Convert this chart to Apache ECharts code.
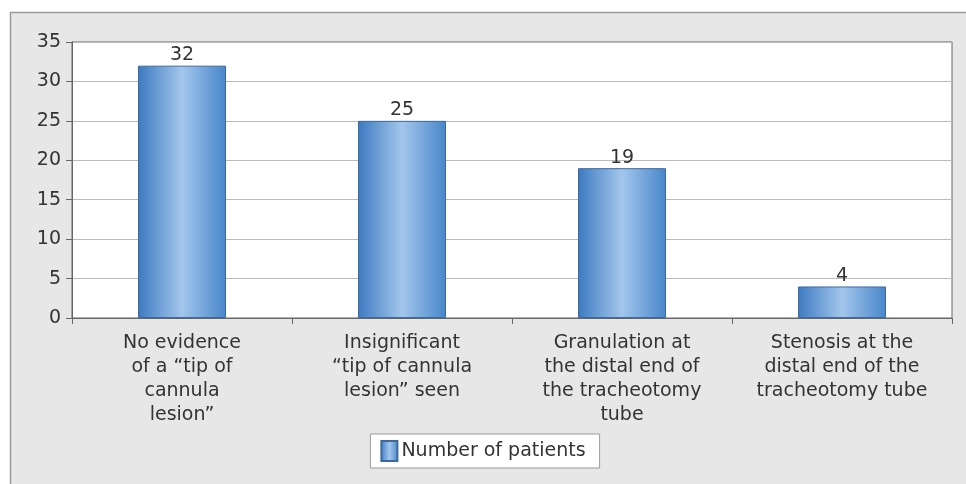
<!DOCTYPE html>
<html><head><meta charset="utf-8">
<script src="https://cdn.jsdelivr.net/npm/echarts@6/dist/echarts.min.js"></script>
<style>html,body{margin:0;padding:0;background:#fff}#c{width:966px;height:484px}</style>
</head><body><div id="c"></div>
<script>
const categories = ['No evidence\nof a “tip of\ncannula\nlesion”', 'Insignificant\n“tip of cannula\nlesion” seen', 'Granulation at\nthe distal end of\nthe tracheotomy\ntube', 'Stenosis at the\ndistal end of the\ntracheotomy tube'];
const values = [32, 25, 19, 4];
const seriesName = 'Number of patients';
const yMin = 0, yMax = 35, yInterval = 5;

const FONT = 'DejaVu Sans, sans-serif';
const chart = echarts.init(document.getElementById('c'));
const barGrad = new echarts.graphic.LinearGradient(0, 0, 1, 0, [
  {offset: 0, color: '#3c7ac2'},
  {offset: 0.5, color: '#a3c6ec'},
  {offset: 1, color: '#4886ca'}
]);
chart.setOption({
  backgroundColor: '#fff',
  animation: false,
  textStyle: {fontFamily: FONT},
  graphic: [{
    type: 'rect', z: -10, silent: true,
    shape: {x: 10.5, y: 12.5, width: 970, height: 480},
    style: {fill: '#e7e7e7', stroke: '#9a9a9a', lineWidth: 1.5}
  }],
  grid: {left: 72, top: 42, right: 14, bottom: 166, show: true, backgroundColor: '#fff', borderColor: '#666', borderWidth: 1},
  legend: {
    bottom: 16, left: 'center',
    data: [seriesName],
    backgroundColor: '#fff', borderColor: '#999', borderWidth: 1, borderRadius: 0,
    padding: [6, 14, 6, 10],
    itemWidth: 16, itemHeight: 20, icon: 'rect', itemGap: 6,
    textStyle: {fontSize: 19, color: '#333', fontFamily: FONT, padding: [0, 0, 0, -1]}
  },
  xAxis: {
    type: 'category', data: categories,
    axisLine: {lineStyle: {color: '#666'}},
    axisTick: {show: true, length: 6, lineStyle: {color: '#666'}},
    axisLabel: {fontSize: 19, color: '#333', lineHeight: 24, margin: 13, interval: 0, fontFamily: FONT}
  },
  yAxis: {
    type: 'value', min: yMin, max: yMax, interval: yInterval,
    axisLine: {show: true, lineStyle: {color: '#666'}},
    axisTick: {show: true, length: 6, lineStyle: {color: '#666'}},
    splitLine: {lineStyle: {color: '#bbb'}},
    axisLabel: {fontSize: 19, color: '#333', margin: 11, fontFamily: FONT}
  },
  series: [{
    name: seriesName, type: 'bar', data: values, barWidth: 88,
    itemStyle: {color: barGrad, borderColor: '#3d6a9c', borderWidth: 1},
    label: {show: true, position: 'top', fontSize: 19, color: '#333', distance: 1, fontFamily: FONT}
  }]
});
</script></body></html>
